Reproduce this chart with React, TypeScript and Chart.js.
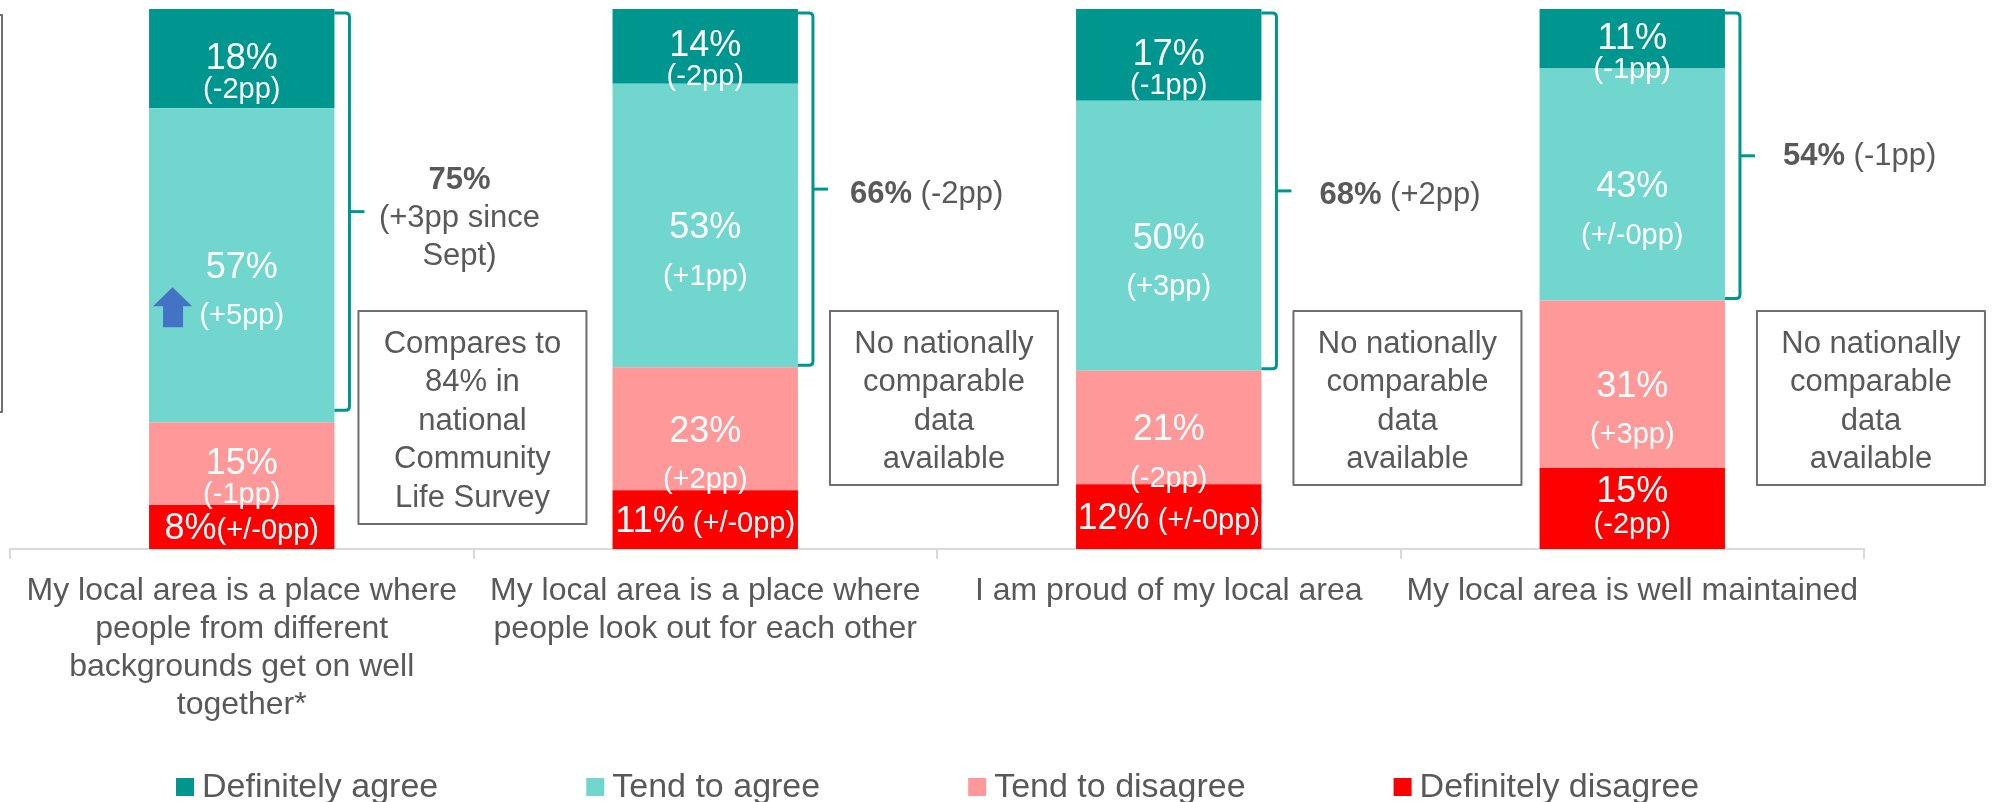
import { useEffect, useRef } from "react";
import { Chart, registerables } from "chart.js";

Chart.register(...registerables);

// ---------------- data ----------------
const categories = [
  ["My local area is a place where", "people from different", "backgrounds get on well", "together*"],
  ["My local area is a place where", "people look out for each other"],
  ["I am proud of my local area"],
  ["My local area is well maintained"],
];

const seriesNames = ["Definitely agree", "Tend to agree", "Tend to disagree", "Definitely disagree"];

const definitelyAgree = [18, 14, 17, 11];
const tendToAgree = [57, 53, 50, 43];
const tendToDisagree = [15, 23, 21, 31];
const definitelyDisagree = [8, 11, 12, 15];

const changeDefinitelyAgree = ["(-2pp)", "(-2pp)", "(-1pp)", "(-1pp)"];
const changeTendToAgree = ["(+5pp)", "(+1pp)", "(+3pp)", "(+/-0pp)"];
const changeTendToDisagree = ["(-1pp)", "(+2pp)", "(-2pp)", "(+3pp)"];
const changeDefinitelyDisagree = ["(+/-0pp)", "(+/-0pp)", "(+/-0pp)", "(-2pp)"];

const netAgree = ["75%", "66%", "68%", "54%"];
const netChange = [["(+3pp since", "Sept)"], ["(-2pp)"], ["(+2pp)"], ["(-1pp)"]];

const comparisonNotes = [
  ["Compares to", "84% in", "national", "Community", "Life Survey"],
  ["No nationally", "comparable", "data", "available"],
  ["No nationally", "comparable", "data", "available"],
  ["No nationally", "comparable", "data", "available"],
];

// significant change markers (up arrow) per bar for "Tend to agree"
const significantUp = [true, false, false, false];

// ---------------- styles ----------------
const FONT = "'Liberation Sans', Arial, Helvetica, sans-serif";
const TEXT = "#595959";
const colors = ["#009690", "#70D6CE", "#FF9999", "#FF0000"];
const AXIS = "#D9D9D9";
const ARROW = "#4472C4";

const seriesValues = [definitelyAgree, tendToAgree, tendToDisagree, definitelyDisagree];
const seriesChanges = [changeDefinitelyAgree, changeTendToAgree, changeTendToDisagree, changeDefinitelyDisagree];
const totals = categories.map((_, j) => seriesValues.reduce((s, arr) => s + arr[j], 0));

function segBox(el: any) {
  const p = el.getProps(["x", "y", "base", "width"], true);
  return {
    x: p.x,
    width: p.width,
    top: Math.min(p.y, p.base),
    bottom: Math.max(p.y, p.base),
  };
}

const overlayPlugin = {
  id: "overlay",
  afterDatasetsDraw(chart: any) {
    const ctx = chart.ctx as CanvasRenderingContext2D;
    const area = chart.chartArea;
    // datasets are stored bottom-up: index 0 = Definitely disagree
    const metaFor = (s: number) => chart.getDatasetMeta(3 - s);

    ctx.save();

    for (let j = 0; j < categories.length; j++) {
      // ---- labels inside bars ----
      for (let s = 0; s < 4; s++) {
        const b = segBox(metaFor(s).data[j]);
        const cy = (b.top + b.bottom) / 2;
        const h = b.bottom - b.top;
        const pct = seriesValues[s][j] + "%";
        const pp = seriesChanges[s][j];
        ctx.fillStyle = "#FFFFFF";
        if (s === 3 && h < 72) {
          ctx.textBaseline = "alphabetic";
          ctx.textAlign = "left";
          ctx.font = `36px ${FONT}`;
          const w1 = ctx.measureText(pct).width;
          ctx.font = `29px ${FONT}`;
          const sep = j === 0 ? "" : " ";
          const w2 = ctx.measureText(sep + pp).width;
          const sx = b.x - (w1 + w2) / 2;
          const base = cy + 12;
          ctx.font = `36px ${FONT}`;
          ctx.fillText(pct, sx, base);
          ctx.font = `29px ${FONT}`;
          ctx.fillText(sep + pp, sx + w1, base);
        } else {
          ctx.textAlign = "center";
          ctx.textBaseline = "middle";
          let y1 = h < 100 ? cy : cy + 3;
          let y2 = h < 100 ? cy + 31 : cy + 51;
          if (s === 3) {
            y1 = cy - 16;
            y2 = cy + 16;
          }
          ctx.font = `36px ${FONT}`;
          ctx.fillText(pct, b.x, y1);
          ctx.font = `29px ${FONT}`;
          ctx.fillText(pp, b.x, y2);
        }
      }

      // significance arrow
      if (significantUp[j]) {
        const b = segBox(metaFor(1).data[j]);
        const cy = (b.top + b.bottom) / 2;
        const left = b.x - b.width / 2 + 4;
        const headTop = cy + 22;
        const headBot = cy + 41;
        const shaftBot = cy + 62;
        ctx.fillStyle = ARROW;
        ctx.beginPath();
        ctx.moveTo(left + 19.5, headTop);
        ctx.lineTo(left + 39, headBot);
        ctx.lineTo(left + 30, headBot);
        ctx.lineTo(left + 30, shaftBot);
        ctx.lineTo(left + 10, shaftBot);
        ctx.lineTo(left + 10, headBot);
        ctx.lineTo(left, headBot);
        ctx.closePath();
        ctx.fill();
      }

      // bracket for total agree
      const bTop = segBox(metaFor(0).data[j]);
      const bAgree = segBox(metaFor(1).data[j]);
      const xr = bTop.x + bTop.width / 2;
      const vx = xr + 15;
      const top = bTop.top + 4;
      const bot = bAgree.bottom - (j === 0 ? 12 : 2);
      const mid = (top + bot) / 2;
      ctx.strokeStyle = colors[0];
      ctx.lineWidth = 3;
      ctx.lineJoin = "round";
      ctx.beginPath();
      ctx.moveTo(xr, top);
      ctx.lineTo(vx - 4, top);
      ctx.quadraticCurveTo(vx, top, vx, top + 4);
      ctx.lineTo(vx, bot - 4);
      ctx.quadraticCurveTo(vx, bot, vx - 4, bot);
      ctx.lineTo(xr, bot);
      ctx.stroke();
      ctx.beginPath();
      ctx.moveTo(vx, mid);
      ctx.lineTo(vx + 15, mid);
      ctx.stroke();

      // bracket label
      const nubEnd = vx + 15;
      ctx.fillStyle = TEXT;
      ctx.textBaseline = "middle";
      const lines = netChange[j];
      if (lines.length > 1) {
        ctx.textAlign = "center";
        const cx = nubEnd + 95;
        const all = [netAgree[j], ...lines];
        all.forEach((t, i) => {
          ctx.font = i === 0 ? `bold 31px ${FONT}` : `31px ${FONT}`;
          ctx.fillText(t, cx, mid + 7 + (i - (all.length - 1) / 2) * 38);
        });
      } else {
        ctx.textAlign = "left";
        const lx = nubEnd + (j === 1 ? 22 : 28);
        const ly = mid + (j === 3 ? 1 : 5);
        ctx.font = `bold 31px ${FONT}`;
        ctx.fillText(netAgree[j], lx, ly);
        const w = ctx.measureText(netAgree[j]).width;
        ctx.font = `31px ${FONT}`;
        ctx.fillText(" " + lines[0], lx + w, ly);
      }

      // comparison box
      const note = comparisonNotes[j];
      const boxLeft = xr + (j === 0 ? 24 : 32);
      const boxW = 228;
      const boxTop = area.top + 302;
      const boxH = note.length * 39 + 18;
      ctx.strokeStyle = "#6E6E6E";
      ctx.lineWidth = 2;
      ctx.strokeRect(boxLeft, boxTop, boxW, boxH);
      ctx.fillStyle = TEXT;
      ctx.textAlign = "center";
      ctx.font = `31px ${FONT}`;
      note.forEach((t, i) => {
        ctx.fillText(t, boxLeft + boxW / 2, boxTop + 33 + i * 38.5);
      });
    }

    // partially visible box at the left edge
    ctx.strokeStyle = "#6E6E6E";
    ctx.lineWidth = 2;
    ctx.strokeRect(-40, area.top + 6, 42, 397);

    // ---- legend ----
    const ly = chart.height - 15;
    let lx = 176;
    ctx.textAlign = "left";
    ctx.textBaseline = "middle";
    ctx.font = `34px ${FONT}`;
    seriesNames.forEach((name, i) => {
      ctx.fillStyle = colors[i];
      ctx.fillRect(lx, ly - 9, 18, 18);
      ctx.fillStyle = TEXT;
      ctx.fillText(name, lx + 26, ly + 1);
      lx += 26 + ctx.measureText(name).width + 148;
    });

    ctx.restore();
  },
};

export default function App() {
  const canvasRef = useRef<HTMLCanvasElement | null>(null);

  useEffect(() => {
    if (!canvasRef.current) return;
    const order = [3, 2, 1, 0];
    const chart = new Chart(canvasRef.current, {
      type: "bar",
      data: {
        labels: categories,
        datasets: order.map((s) => ({
          label: seriesNames[s],
          data: seriesValues[s].map((v, j) => (v / totals[j]) * 100),
          backgroundColor: colors[s],
          borderWidth: 0,
          barPercentage: 0.4,
          categoryPercentage: 1.0,
        })),
      },
      options: {
        responsive: false,
        animation: false,
        devicePixelRatio: 1,
        layout: { padding: { top: 9, left: 10, right: 131, bottom: 50 } },
        plugins: {
          legend: { display: false },
          tooltip: { enabled: false },
        },
        scales: {
          x: {
            stacked: true,
            grid: {
              display: true,
              drawOnChartArea: false,
              drawTicks: true,
              tickLength: 10,
              color: AXIS,
              lineWidth: 2,
              offset: true,
            },
            border: { display: true, color: AXIS, width: 2 },
            ticks: {
              color: TEXT,
              font: { family: FONT, size: 32, lineHeight: 1.19 },
              padding: 13,
              maxRotation: 0,
              minRotation: 0,
              autoSkip: false,
            },
            afterFit: (scale: any) => {
              scale.height = 203;
            },
          },
          y: { stacked: true, display: false, min: 0, max: 100 },
        },
      },
      plugins: [overlayPlugin],
    } as any);
    return () => chart.destroy();
  }, []);

  return (
    <div style={{ position: "absolute", left: 0, top: 0, width: 1995, height: 802, background: "#fff" }}>
      <canvas ref={canvasRef} width={1995} height={802} style={{ width: 1995, height: 802, display: "block" }} />
    </div>
  );
}
